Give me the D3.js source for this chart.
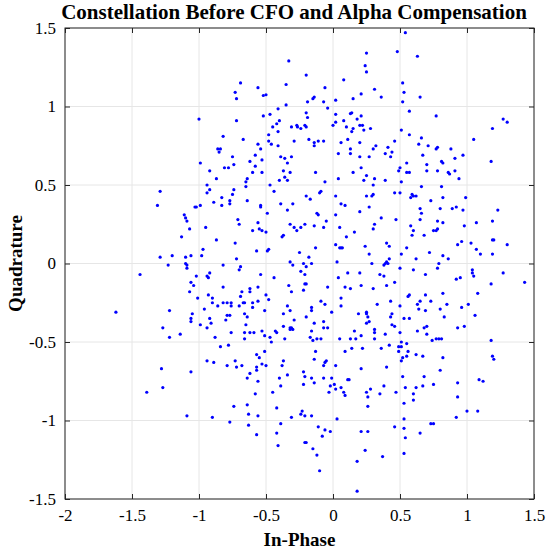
<!DOCTYPE html>
<html>
<head>
<meta charset="utf-8">
<script src="https://cdn.jsdelivr.net/npm/d3@7"></script>
<style>
  body { margin: 0; background: #fff; }
  svg { display: block; font-family: "Liberation Serif", "Times New Roman", serif; }
</style>
</head>
<body>
<svg id="chart" width="550" height="555"></svg>
<script>
// received symbols, [in-phase, quadrature]
const symbolsUpper = [
  [-1.00,0.92],[-0.99,0.64],[-0.92,0.59],[-0.94,0.50],
  [-0.33,1.29],[-0.20,1.20],[-0.69,1.15],[-0.56,1.12],[-0.35,1.14],[-0.06,1.12],[-0.73,1.09],[-0.52,1.07],[-0.50,1.075],[-0.72,1.05],
  [-0.14,1.06],[-0.15,1.05],[-0.19,1.03],[-0.07,1.03],[-0.35,1.01],[-0.41,0.985],[-0.04,0.99],[-0.20,0.96],[-0.47,0.95],[-0.52,0.94],
  [-0.19,0.93],[-0.72,0.91],[-0.40,0.91],[-0.42,0.89],[-0.45,0.87],[-0.31,0.87],[-0.27,0.88],[-0.265,0.87],[-0.21,0.88],[-0.20,0.87],
  [-0.24,0.86],[-0.41,0.84],[-0.48,0.82],[-0.82,0.81],[-0.67,0.79],[-0.18,0.79],[-0.29,0.78],[-0.48,0.78],[-0.11,0.78],[-0.07,0.78],
  [-0.14,0.77],[-0.46,0.76],[-0.14,0.75],[-0.56,0.76],[-0.41,0.75],[-0.84,0.73],[-0.86,0.73],[-0.54,0.73],[-0.85,0.71],[-0.58,0.69],
  [-0.39,0.68],[-0.31,0.68],[-0.75,0.68],[-0.36,0.67],[-0.53,0.66],[-0.62,0.65],[-0.34,0.64],[-0.74,0.63],[-0.58,0.62],[-0.81,0.61],
  [-0.78,0.61],[-0.37,0.59],[-0.60,0.58],[-0.53,0.58],[-0.32,0.58],[-0.13,0.58],[-0.64,0.54],[-0.36,0.55],[-0.34,0.53],[-0.40,0.53],
  [-0.87,0.54],[-0.65,0.52],[-0.06,0.52],[-0.47,0.50],
  [0.54,1.47],[0.25,1.34],[0.48,1.35],[0.63,1.32],[0.24,1.26],[0.25,1.22],[0.08,1.17],[0.52,1.15],[0.31,1.11],[0.53,1.09],
  [0.21,1.08],[0.36,1.06],[0.65,1.06],[0.15,1.05],[0.02,1.04],[0.52,1.03],[0.57,0.97],[0.14,0.96],[0.13,0.955],[0.02,0.95],
  [0.21,0.94],[0.18,0.92],[0.08,0.91],[0.02,0.90],[0.00,0.88],[0.20,0.88],[0.22,0.88],[0.10,0.87],[0.15,0.86],[0.14,0.84],
  [0.23,0.85],[0.28,0.86],[0.51,0.85],[0.57,0.82],[0.66,0.80],[0.11,0.79],[0.06,0.77],[0.46,0.78],[0.20,0.77],[0.64,0.76],
  [0.71,0.75],[0.32,0.75],[0.13,0.73],[0.30,0.73],[0.41,0.74],[0.04,0.70],[0.13,0.70],[0.39,0.70],[0.44,0.71],[0.43,0.68],
  [0.20,0.68],[0.27,0.68],[0.67,0.69],[0.55,0.64],[0.70,0.63],[0.21,0.61],[0.50,0.61],[0.49,0.59],[0.15,0.58],[0.55,0.58],
  [0.57,0.58],[0.70,0.59],[0.25,0.56],[0.04,0.54],[0.31,0.54],[0.23,0.53],[0.39,0.53],[0.51,0.52],[0.30,0.50],
  [0.77,0.94],[1.27,0.92],[1.30,0.90],[1.19,0.86],[1.05,0.79],[0.78,0.74],[0.77,0.73],[0.88,0.73],[0.97,0.69],[0.91,0.67],
  [0.81,0.65],[0.82,0.64],[1.18,0.65],[0.78,0.59],[0.86,0.58],[0.91,0.59],[0.87,0.57],[0.94,0.54]
];

const symbolsMiddle = [
  [-0.92,0.47],[-1.29,0.46],[-0.94,0.45],[-0.89,0.39],[-1.31,0.37],[-1.03,0.36],[-1.02,0.36],[-0.99,0.37],[-1.11,0.31],[-1.10,0.29],
  [-1.09,0.27],[-0.95,0.23],[-1.07,0.22],[-1.13,0.17],[-0.97,0.09],[-1.29,0.04],[-1.20,0.05],[-1.10,0.04],[-1.06,0.05],[-0.98,0.05],
  [-1.23,-0.01],[-1.10,0.00],[-1.09,-0.01],[-1.09,-0.03],[-1.44,-0.07],[-1.02,-0.08],[-0.94,-0.08],[-0.93,-0.09],[-0.92,-0.06],[-1.06,-0.12],
  [-1.04,-0.14],[-1.07,-0.18],[-0.93,-0.20],[-1.01,-0.22],[-0.90,-0.22],[-0.90,-0.25],[-0.96,-0.29],[-1.62,-0.31],[-1.22,-0.30],[-1.05,-0.32],
  [-1.06,-0.35],[-1.06,-0.37],[-0.92,-0.35],[-0.91,-0.38],[-0.99,-0.39],[-1.27,-0.41],[-0.94,-0.41],[-1.14,-0.45],[-1.22,-0.47],
  [-0.65,0.49],[-0.74,0.47],[-0.44,0.46],[-0.83,0.42],[-0.75,0.44],[-0.09,0.46],[-0.10,0.45],[-0.20,0.43],[-0.17,0.41],[-0.77,0.40],
  [-0.77,0.38],[-0.64,0.40],[-0.83,0.37],[-0.54,0.37],[-0.54,0.36],[-0.39,0.38],[-0.30,0.38],[-0.34,0.34],[-0.49,0.32],[-0.12,0.32],
  [-0.11,0.31],[-0.71,0.28],[-0.70,0.25],[-0.56,0.26],[-0.32,0.25],[-0.29,0.23],[-0.27,0.21],[-0.24,0.23],[-0.21,0.25],[-0.14,0.24],
  [-0.05,0.27],[-0.07,0.23],[-0.55,0.22],[-0.60,0.21],[-0.53,0.21],[-0.50,0.20],[-0.37,0.18],[-0.38,0.17],[-0.87,0.15],[-0.73,0.13],
  [-0.48,0.09],[-0.49,0.08],[-0.57,0.08],[-0.13,0.10],[-0.25,0.07],[-0.18,0.04],[-0.72,0.03],[-0.32,0.01],[-0.30,-0.01],[-0.22,0.00],
  [-0.20,-0.02],[-0.16,0.00],[-0.82,-0.01],[-0.69,-0.02],[-0.70,-0.04],[-0.24,-0.05],[-0.21,-0.07],[-0.54,-0.07],[-0.44,-0.09],[-0.82,-0.15],
  [-0.62,-0.16],[-0.56,-0.15],[-0.33,-0.14],[-0.21,-0.13],[-0.20,-0.13],[-0.04,-0.15],[-0.68,-0.18],[-0.62,-0.18],[-0.31,-0.18],[-0.22,-0.17],
  [-0.69,-0.21],[-0.50,-0.20],[-0.82,-0.25],[-0.79,-0.25],[-0.76,-0.25],[-0.67,-0.25],[-0.66,-0.25],[-0.60,-0.25],[-0.56,-0.24],[-0.48,-0.23],
  [-0.86,-0.27],[-0.76,-0.27],[-0.70,-0.27],[-0.60,-0.28],[-0.34,-0.27],[-0.09,-0.24],[-0.06,-0.26],[-0.16,-0.28],[-0.51,-0.30],[-0.32,-0.30],
  [-0.16,-0.30],[-0.66,-0.32],[-0.79,-0.33],[-0.77,-0.33],[-0.64,-0.34],[-0.37,-0.32],[-0.20,-0.34],[-0.80,-0.36],[-0.29,-0.36],[-0.65,-0.39],
  [-0.14,-0.38],[-0.07,-0.37],[-0.37,-0.40],[-0.32,-0.41],[-0.31,-0.41],[-0.30,-0.42],[-0.32,-0.42],[-0.07,-0.41],[-0.04,-0.41],[-0.76,-0.44],
  [-0.66,-0.44],[-0.62,-0.44],[-0.59,-0.44],[-0.53,-0.43],[-0.43,-0.43],[-0.42,-0.44],[-0.16,-0.43],[-0.51,-0.46],[-0.88,-0.47],[-0.47,-0.47],
  [-0.66,-0.48],[-0.36,-0.48],[-0.17,-0.47],[-0.15,-0.49],[-0.12,-0.48],[-0.09,-0.48],[-0.78,-0.52],[-0.46,-0.50],
  [0.66,0.49],[0.02,0.43],[0.25,0.43],[0.29,0.43],[0.30,0.44],[0.46,0.45],[0.50,0.45],[0.59,0.44],[0.58,0.42],[0.60,0.43],
  [0.62,0.43],[0.73,0.40],[0.06,0.38],[0.09,0.37],[0.27,0.36],[0.20,0.33],[0.65,0.35],[0.66,0.32],[0.02,0.31],[0.36,0.29],
  [0.47,0.28],[0.65,0.28],[0.31,0.25],[0.30,0.22],[0.05,0.23],[0.58,0.24],[0.60,0.21],[0.75,0.21],[0.16,0.20],[0.10,0.17],
  [0.59,0.18],[0.68,0.18],[0.02,0.12],[0.05,0.10],[0.06,0.10],[0.07,0.10],[0.24,0.11],[0.40,0.13],[0.42,0.11],[0.55,0.10],
  [0.72,0.07],[0.27,0.06],[0.51,0.06],[0.62,0.03],[0.03,0.01],[0.42,0.03],[0.40,0.01],[0.41,0.00],[0.38,-0.01],[0.39,0.00],
  [0.29,0.00],[0.50,-0.03],[0.60,-0.04],[0.11,-0.06],[0.20,-0.06],[0.35,-0.07],[0.38,-0.08],[0.69,-0.07],[0.04,-0.09],[0.46,-0.12],
  [0.09,-0.15],[0.13,-0.16],[0.21,-0.14],[0.30,-0.16],[0.40,-0.14],[0.57,-0.20],[0.56,-0.21],[0.06,-0.22],[0.43,-0.24],[0.65,-0.24],
  [0.69,-0.20],[0.73,-0.24],[0.63,-0.26],[0.64,-0.29],[0.33,-0.26],[0.50,-0.27],[0.69,-0.30],[-0.01,-0.31],[0.06,-0.27],[0.25,-0.31],
  [0.19,-0.32],[0.25,-0.32],[0.44,-0.32],[0.43,-0.34],[0.26,-0.34],[0.53,-0.35],[0.57,-0.35],[0.27,-0.37],[0.25,-0.38],[0.44,-0.39],
  [0.46,-0.40],[0.70,-0.40],[0.68,-0.41],[0.16,-0.43],[0.31,-0.42],[0.31,-0.44],[0.50,-0.44],[0.63,-0.43],[0.21,-0.46],[0.39,-0.45],
  [0.70,-0.45],[0.05,-0.48],[0.13,-0.48],[0.17,-0.48],[0.31,-0.48],[0.51,-0.50],[0.55,-0.51],[0.74,-0.49],
  [0.81,0.49],[0.82,0.42],[0.99,0.42],[0.80,0.35],[0.89,0.35],[0.92,0.36],[0.97,0.34],[1.23,0.34],[0.78,0.27],[0.82,0.26],
  [1.07,0.26],[1.19,0.27],[0.98,0.24],[0.77,0.21],[0.78,0.22],[0.96,0.14],[0.93,0.12],[1.03,0.13],[1.19,0.15],[1.20,0.15],
  [1.30,0.12],[1.07,0.09],[1.10,0.06],[1.19,0.06],[0.82,0.05],[0.86,0.03],[0.79,0.00],[0.78,-0.03],[1.04,-0.04],[1.04,-0.06],
  [1.27,-0.06],[0.95,-0.09],[0.92,-0.10],[1.05,-0.08],[1.18,-0.13],[1.43,-0.12],[1.08,-0.19],[0.82,-0.19],[0.85,-0.26],[1.01,-0.26],
  [0.80,-0.29],[0.96,-0.28],[0.83,-0.34],[1.06,-0.33],[0.93,-0.41],[0.98,-0.40],[0.77,-0.48],[0.79,-0.48],[0.81,-0.48],[1.18,-0.49]
];

const symbolsLower = [
  [-1.28,-0.67],[-1.06,-0.69],[-0.94,-0.62],[-0.89,-0.63],[-1.27,-0.79],[-1.39,-0.82],[-1.09,-0.97],[-0.90,-0.98],
  [-0.84,-0.53],[-0.51,-0.56],[-0.57,-0.58],[-0.55,-0.60],[-0.73,-0.62],[-0.79,-0.65],[-0.72,-0.66],[-0.68,-0.65],[-0.57,-0.66],[-0.57,-0.68],
  [-0.53,-0.64],[-0.50,-0.65],[-0.37,-0.62],[-0.38,-0.65],[-0.13,-0.56],[-0.14,-0.61],[-0.05,-0.62],[-0.06,-0.63],[-0.07,-0.65],[-0.62,-0.70],
  [-0.64,-0.73],[-0.56,-0.75],[-0.40,-0.73],[-0.34,-0.71],[-0.22,-0.69],[-0.21,-0.72],[-0.16,-0.73],[-0.07,-0.73],[-0.22,-0.77],[-0.14,-0.76],
  [-0.39,-0.78],[-0.45,-0.82],[-0.58,-0.83],[-0.03,-0.82],[-0.74,-0.91],[-0.64,-0.90],[-0.42,-0.92],[-0.63,-0.96],[-0.56,-0.97],[-0.31,-0.98],
  [-0.24,-0.96],[-0.23,-0.94],[-0.21,-0.97],[-0.16,-0.97],[-0.77,-1.01],[-0.63,-1.03],[-0.39,-1.02],[-0.11,-1.04],[-0.06,-1.06],[-0.57,-1.09],
  [-0.42,-1.08],[-0.08,-1.10],[-0.41,-1.16],[-0.21,-1.14],[-0.20,-1.14],[-0.15,-1.18],[-0.12,-1.22],[-0.10,-1.32],
  [0.14,-0.54],[0.22,-0.54],[0.09,-0.56],[0.36,-0.54],[0.42,-0.52],[0.49,-0.53],[0.51,-0.53],[0.49,-0.56],[0.56,-0.56],[0.55,-0.59],
  [0.52,-0.60],[0.62,-0.58],[0.67,-0.59],[0.51,-0.62],[0.02,-0.65],[0.21,-0.67],[0.40,-0.66],[0.52,-0.72],[0.68,-0.72],[-0.01,-0.73],
  [0.11,-0.74],[0.12,-0.74],[0.01,-0.77],[-0.02,-0.78],[0.06,-0.79],[0.02,-0.80],[0.38,-0.78],[0.28,-0.80],[0.25,-0.82],[0.62,-0.79],
  [0.67,-0.78],[0.75,-0.77],[0.54,-0.79],[0.08,-0.82],[0.09,-0.84],[0.26,-0.85],[0.35,-0.83],[0.47,-0.82],[0.60,-0.83],[0.60,-0.87],
  [0.53,-0.89],[0.26,-0.91],[0.03,-0.99],[0.53,-0.99],[0.46,-1.04],[0.53,-1.05],[0.73,-1.02],[0.75,-1.02],[-0.02,-1.07],[0.21,-1.07],
  [0.26,-1.07],[0.65,-1.08],[0.54,-1.11],[0.24,-1.19],[0.37,-1.23],[0.53,-1.21],[0.18,-1.26],[0.18,-1.45],
  [0.82,-0.60],[1.19,-0.59],[1.20,-0.61],[0.80,-0.68],[1.09,-0.74],[1.12,-0.75],[0.93,-0.76],[0.93,-0.85],[1.00,-0.94],[1.08,-0.94],
  [0.92,-0.98]
];

const xTicks = [-2, -1.5, -1, -0.5, 0, 0.5, 1, 1.5];
const yTicks = [-1.5, -1, -0.5, 0, 0.5, 1, 1.5];
const xDomain = [-2, 1.5];
const yDomain = [-1.5, 1.5];

const titleText = 'Constellation Before CFO and Alpha Compensation';
const xLabelText = 'In-Phase';
const yLabelText = 'Quadrature';

const W = 550, H = 555;
const margin = { top: 28, right: 16, bottom: 56, left: 65 };
const innerW = W - margin.left - margin.right;
const innerH = H - margin.top - margin.bottom;

const svg = d3.select('#chart');
const g = svg.append('g').attr('transform', `translate(${margin.left},${margin.top})`);

const x = d3.scaleLinear().domain(xDomain).range([0, innerW]);
const y = d3.scaleLinear().domain(yDomain).range([innerH, 0]);

// grid
g.append('g').selectAll('line').data(xTicks).enter().append('line')
  .attr('x1', d => x(d)).attr('x2', d => x(d))
  .attr('y1', 0).attr('y2', innerH)
  .attr('stroke', '#e6e6e6').attr('stroke-width', 1);
g.append('g').selectAll('line').data(yTicks).enter().append('line')
  .attr('y1', d => y(d)).attr('y2', d => y(d))
  .attr('x1', 0).attr('x2', innerW)
  .attr('stroke', '#e6e6e6').attr('stroke-width', 1);

// points
const allSymbols = symbolsUpper.concat(symbolsMiddle, symbolsLower);
g.append('g').selectAll('circle').data(allSymbols).enter().append('circle')
  .attr('cx', d => x(d[0]))
  .attr('cy', d => y(d[1]))
  .attr('r', 1.6)
  .attr('fill', '#0000ff');

// axes, MATLAB style ticks pointing inwards on all four sides
const fmt = d => String(d);   // plain hyphen minus like the original
const styleAxis = sel => {
  sel.select('.domain').remove();
  sel.selectAll('.tick line').attr('stroke', '#262626');
  sel.selectAll('.tick text').attr('fill', '#000').style('font-size', '17px')
    .style('font-family', '"Liberation Serif", "Times New Roman", serif');
};

g.append('g').attr('transform', `translate(0,${innerH})`)
  .call(d3.axisBottom(x).tickValues(xTicks).tickFormat(fmt).tickSizeInner(-5).tickPadding(10))
  .call(styleAxis);
g.append('g')
  .call(d3.axisTop(x).tickValues(xTicks).tickFormat('').tickSizeInner(-5))
  .call(styleAxis);
g.append('g')
  .call(d3.axisLeft(y).tickValues(yTicks).tickFormat(fmt).tickSizeInner(-5).tickPadding(9))
  .call(styleAxis);
g.append('g').attr('transform', `translate(${innerW},0)`)
  .call(d3.axisRight(y).tickValues(yTicks).tickFormat('').tickSizeInner(-5))
  .call(styleAxis);

g.append('rect')
  .attr('width', innerW).attr('height', innerH)
  .attr('fill', 'none').attr('stroke', '#262626').attr('stroke-width', 1);

// labels
svg.append('text')
  .attr('x', 294).attr('y', 19)
  .attr('text-anchor', 'middle')
  .style('font-size', '21px').style('font-weight', 'bold')
  .text(titleText);

svg.append('text')
  .attr('x', margin.left + innerW / 2).attr('y', 546)
  .attr('text-anchor', 'middle')
  .style('font-size', '19px').style('font-weight', 'bold')
  .text(xLabelText);

svg.append('text')
  .attr('transform', `translate(22,${margin.top + innerH / 2}) rotate(-90)`)
  .attr('text-anchor', 'middle')
  .style('font-size', '19px').style('font-weight', 'bold')
  .text(yLabelText);
</script>
</body>
</html>
